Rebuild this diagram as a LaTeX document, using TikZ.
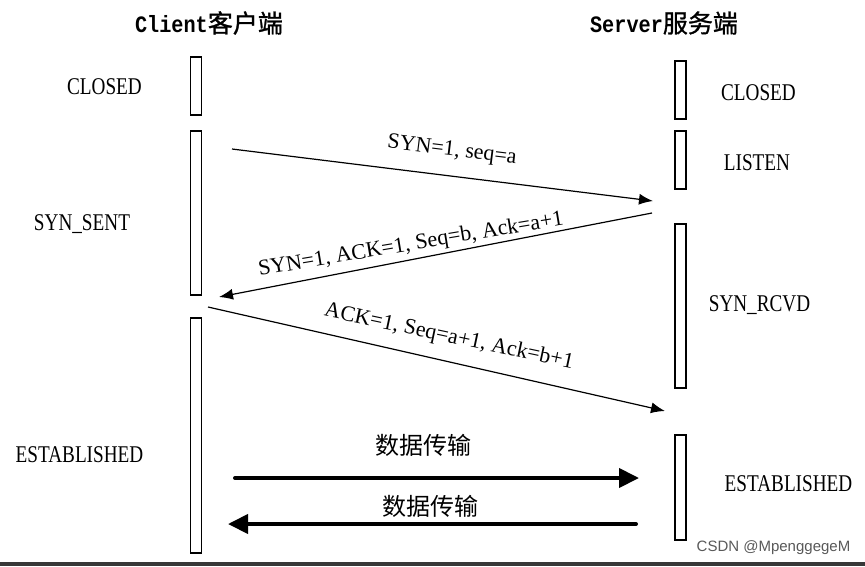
\documentclass[tikz,border=0pt]{standalone}
\usepackage{fontspec}
\usepackage{graphicx}
\setmainfont{Liberation Serif}
\newfontfamily\cjk{Noto Sans CJK SC}
\newfontfamily\cjkb{Noto Sans CJK SC}[FakeBold=1.2]
\newfontfamily\monof{Liberation Mono}
\newfontfamily\wmfont{Liberation Sans}
\usetikzlibrary{arrows.meta}
\newcommand{\stlab}[1]{\scalebox{0.8}[1]{\fontsize{24}{24}\selectfont #1}}
\newcommand{\ttlab}[1]{\scalebox{0.86}[1]{\monof\bfseries\fontsize{23.5}{23.5}\selectfont #1}}
\tikzset{
  lifebox/.style={draw, line width=1.2pt, inner sep=0pt, minimum width=11pt},
  state/.style={inner sep=0pt, font=\fontsize{24}{24}\selectfont},
  msg/.style={inner sep=0pt, font=\fontsize{22}{22}\selectfont},
  title/.style={inner sep=0pt},
  thinarrow/.style={line width=1.2pt, -{Latex[length=14pt,width=11pt]}},
  thickarrow/.style={line width=4pt, line cap=round, -{Triangle[length=20pt,width=19pt]}},
  datalab/.style={inner sep=0pt, font=\cjk\fontsize{24}{24}\selectfont},
}
\begin{document}
\begin{tikzpicture}[x=1pt,y=-1pt]
\useasboundingbox (0,0) rectangle (865,566);
\fill[white] (0,0) rectangle (865,566);

% titles
\node[title] (tc) at (209,23) {\ttlab{Client}{\cjkb\fontsize{25}{25}\selectfont 客户端}};
\node[title] (ts) at (664,23) {\ttlab{Server}{\cjkb\fontsize{25}{25}\selectfont 服务端}};

% client lifeline boxes
\node[lifebox, minimum height=58pt]  (cb1) at (196,86) {};
\node[lifebox, minimum height=164pt] (cb2) at (196,213) {};
\node[lifebox, minimum height=235pt] (cb3) at (196,435.5) {};

% server lifeline boxes
\node[lifebox, minimum height=58pt]  (sb1) at (680.5,90) {};
\node[lifebox, minimum height=58pt]  (sb2) at (680.5,160) {};
\node[lifebox, minimum height=164pt] (sb3) at (680.5,306) {};
\node[lifebox, minimum height=105pt] (sb4) at (680.5,487.5) {};

% state labels
\node[state] (cs1) at (104.5,87) {\stlab{CLOSED}};
\node[state] (cs2) at (82,224) {\stlab{SYN\_SENT}};
\node[state] (cs3) at (79.5,455) {\stlab{ESTABLISHED}};
\node[state] (ss1) at (758.5,93) {\stlab{CLOSED}};
\node[state] (ss2) at (757,163) {\stlab{LISTEN}};
\node[state] (ss3) at (759.5,305) {\stlab{SYN\_RCVD}};
\node[state] (ss4) at (788.5,484) {\stlab{ESTABLISHED}};

% handshake messages
\coordinate (m1s) at (232,149);
\coordinate (m1e) at (653,201);
\coordinate (m2s) at (652,213);
\coordinate (m2e) at (219,297);
\coordinate (m3s) at (208,307);
\coordinate (m3e) at (665,411);
\draw[thinarrow] (m1s) -- (m1e);
\draw[thinarrow] (m2s) -- (m2e);
\draw[thinarrow] (m3s) -- (m3e);
\node[msg, rotate=-7]  (l1) at (452,151) {SYN=1, seq=a};
\node[msg, rotate=9.5] (l2) at (411,245) {SYN=1, ACK=1, Seq=b, Ack=a+1};
\node[msg, rotate=-12] (l3) at (449,337) {ACK=1, Seq=a+1, Ack=b+1};

% data transfer
\coordinate (d1s) at (235,478);
\coordinate (d1e) at (639,478);
\coordinate (d2s) at (636,524);
\coordinate (d2e) at (228,524);
\draw[thickarrow] (d1s) -- (d1e);
\draw[thickarrow] (d2s) -- (d2e);
\node[datalab] (dl1) at (423.5,445) {数据传输};
\node[datalab] (dl2) at (430,506) {数据传输};

% watermark and bottom strip
\node[inner sep=0pt, text=black!65, font=\wmfont\fontsize{15}{15}\selectfont] (wm) at (773.5,548) {CSDN @MpenggegeM};
\fill[black!78] (0,562) rectangle (865,566);
\end{tikzpicture}
\end{document}
